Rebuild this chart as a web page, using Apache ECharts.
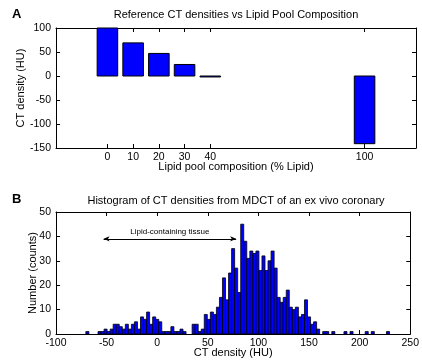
<!DOCTYPE html>
<html><head><meta charset="utf-8">
<script src="https://cdn.jsdelivr.net/npm/echarts@6/dist/echarts.min.js"></script>
<style>html,body{margin:0;padding:0;background:#fff}#c{width:422px;height:360px}</style>
</head><body><div id="c"></div>
<script>
// Panel A data
const lipidPct = [0, 10, 20, 30, 40, 100];
const refDensity = [100, 69, 47, 24, -2, -141];
const aTickValues = [0, 10, 20, 30, 40, 100];
const aBarWidth = 8;

// Panel B data (histogram, 100 bins)
const histBinStart = -70.5;
const histBinWidth = 3;
const histCounts = [
  1,0,0,0,1,1,2,1,2,4,
  4,3,2,4,2,4,5,2,7,6,
  9,4,7,6,5,1,1,1,3,1,
  1,2,1,0,0,4,4,1,2,8,
  6,9,8,11,15,23,14,25,35,27,
  17,45,38,31,34,33,34,26,32,26,
  30,34,27,15,13,15,18,11,10,11,
  7,8,14,7,4,5,2,0,1,1,
  0,1,0,0,0,1,0,1,0,0,
  0,0,1,0,1,0,0,0,0,1
];
const annotFrom = -53, annotTo = 78, annotY = 39;
const annotText = 'Lipid-containing tissue';

const FONT = 'Liberation Sans, Arial, Helvetica, sans-serif';
const barA = lipidPct.map((x, i) => [x, refDensity[i]]);
const barB = histCounts.map((c, k) => [histBinStart + k * histBinWidth, histBinStart + (k + 1) * histBinWidth, c]);

function rectBetween(api, x0, x1, y0, y1, lw) {
  const p0 = api.coord([x0, y0]);
  const p1 = api.coord([x1, y1]);
  return {
    type: 'rect',
    shape: { x: Math.min(p0[0], p1[0]), y: Math.min(p0[1], p1[1]), width: Math.abs(p1[0] - p0[0]), height: Math.max(Math.abs(p1[1] - p0[1]), 0.5) },
    style: { fill: '#0000ff', stroke: '#000', lineWidth: lw }
  };
}

const axisCommon = {
  axisLine: { onZero: false, lineStyle: { color: '#000', width: 1 } },
  axisTick: { inside: true, length: 4, lineStyle: { color: '#000' } },
  splitLine: { show: false },
  axisLabel: { color: '#000', fontSize: 10.5, fontFamily: FONT },
  nameTextStyle: { color: '#000', fontSize: 11, fontFamily: FONT },
  nameMoveOverlap: false
};
function ax(extra) { return Object.assign({}, JSON.parse(JSON.stringify(axisCommon)), extra); }

const chart = echarts.init(document.getElementById('c'), null, { renderer: 'canvas' });
chart.setOption({
  animation: false,
  backgroundColor: '#fff',
  title: [
    { text: 'Reference CT densities vs Lipid Pool Composition', left: 236, top: 9, padding: 0, textAlign: 'center',
      textStyle: { fontSize: 11, fontWeight: 'normal', color: '#000', fontFamily: FONT } },
    { text: 'Histogram of CT densities from MDCT of an ex vivo coronary', left: 236, top: 195, padding: 0, textAlign: 'center',
      textStyle: { fontSize: 11, fontWeight: 'normal', color: '#000', fontFamily: FONT } }
  ],
  graphic: [
    { type: 'text', left: 12, top: 8, style: { text: 'A', font: 'bold 13px ' + FONT, fill: '#000' } },
    { type: 'text', left: 12, top: 193, style: { text: 'B', font: 'bold 13px ' + FONT, fill: '#000' } }
  ],
  grid: [
    { left: 56, right: 6, top: 28, height: 120 },
    { left: 56, right: 6, top: 212, height: 122 }
  ],
  xAxis: [
    ax({ type: 'value', gridIndex: 0, min: -20, max: 120, position: 'bottom',
      axisLabel: Object.assign({}, axisCommon.axisLabel, { customValues: aTickValues, margin: 4 }),
      axisTick: Object.assign({}, axisCommon.axisTick, { customValues: aTickValues }),
      name: 'Lipid pool composition (% Lipid)', nameLocation: 'middle', nameGap: 13 }),
    ax({ type: 'value', gridIndex: 0, min: -20, max: 120, position: 'top',
      axisLabel: { show: false },
      axisTick: Object.assign({}, axisCommon.axisTick, { customValues: aTickValues }) }),
    ax({ type: 'value', gridIndex: 1, min: -100, max: 250, interval: 50, position: 'bottom',
      axisLabel: Object.assign({}, axisCommon.axisLabel, { margin: 4, alignMinLabel: 'center', alignMaxLabel: 'center' }),
      name: 'CT density (HU)', nameLocation: 'middle', nameGap: 13 }),
    ax({ type: 'value', gridIndex: 1, min: -100, max: 250, interval: 50, position: 'top',
      axisLabel: { show: false } })
  ],
  yAxis: [
    ax({ type: 'value', gridIndex: 0, min: -150, max: 100, interval: 50, position: 'left',
      axisLabel: Object.assign({}, axisCommon.axisLabel, { margin: 5 }),
      name: 'CT density (HU)', nameLocation: 'middle', nameGap: 30 }),
    ax({ type: 'value', gridIndex: 0, min: -150, max: 100, interval: 50, position: 'right',
      axisLabel: { show: false } }),
    ax({ type: 'value', gridIndex: 1, min: 0, max: 50, interval: 10, position: 'left',
      axisLabel: Object.assign({}, axisCommon.axisLabel, { margin: 5 }),
      name: 'Number (counts)', nameLocation: 'middle', nameGap: 18 }),
    ax({ type: 'value', gridIndex: 1, min: 0, max: 50, interval: 10, position: 'right',
      axisLabel: { show: false } })
  ],
  series: [
    {
      type: 'custom', xAxisIndex: 0, yAxisIndex: 0, data: barA,
      encode: { x: 0, y: 1 },
      renderItem: function (params, api) {
        const x = api.value(0), v = api.value(1);
        return rectBetween(api, x - aBarWidth / 2, x + aBarWidth / 2, 0, v, 1);
      }
    },
    {
      type: 'custom', xAxisIndex: 2, yAxisIndex: 2, data: barB,
      encode: { x: [0, 1], y: 2 },
      renderItem: function (params, api) {
        const c = api.value(2);
        if (!c) return null;
        return rectBetween(api, api.value(0), api.value(1), 0, c, 0.8);
      },
      markLine: {
        silent: true,
        symbol: ['arrow', 'arrow'],
        symbolSize: [4, 6],
        lineStyle: { color: '#000', width: 1, type: 'solid' },
        label: { show: true, position: 'insideMiddleTop', formatter: annotText, color: '#000', fontSize: 8, fontFamily: FONT, distance: 3 },
        data: [[{ coord: [annotFrom, annotY] }, { coord: [annotTo, annotY] }]]
      }
    }
  ]
});
</script>
</body></html>
